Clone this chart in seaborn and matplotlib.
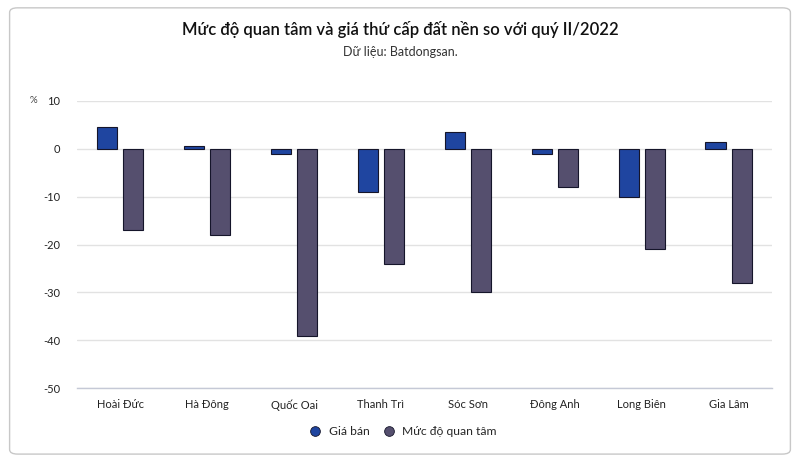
import matplotlib
matplotlib.use("Agg")
import matplotlib.pyplot as plt
import seaborn as sns
import pandas as pd
from matplotlib.patches import FancyBboxPatch
from matplotlib.lines import Line2D

categories = ["Hoài Đức", "Hà Đông", "Quốc Oai", "Thanh Trì", "Sóc Sơn", "Đông Anh", "Long Biên", "Gia Lâm"]
gia_ban = [4.5, 0.5, -1, -9, 3.5, -1, -10, 1.5]
muc_do_quan_tam = [-17, -18, -39, -24, -30, -8, -21, -28]
series_names = ["Giá bán", "Mức độ quan tâm"]
colors = ["#1f45a0", "#554f6e"]
yticks = [10, 0, -10, -20, -30, -40, -50]

df = pd.DataFrame({
    "cat": categories * 2,
    "val": gia_ban + muc_do_quan_tam,
    "series": [series_names[0]] * len(categories) + [series_names[1]] * len(categories),
})

sns.set_style("white")
plt.rcParams["font.family"] = ["Lato", "DejaVu Sans"]

fig = plt.figure(figsize=(8, 4.61), dpi=100)
ax = fig.add_axes([0.096, 0.158, 0.869, 0.623])

sns.barplot(data=df, x="cat", y="val", hue="series", palette=colors, ax=ax, saturation=1,
            width=0.6, gap=0.23, edgecolor="#15152a", linewidth=0.8, legend=False)

ax.set_ylim(-50, 10)
ax.set_yticks(yticks)
ax.set_yticklabels([str(t) for t in yticks], fontsize=8, color="#222222")
ax.set_xlim(-0.5, len(categories) - 0.5)
ax.tick_params(axis="x", labelsize=8, colors="#222222", length=0, pad=8)
ax.tick_params(axis="y", length=0, pad=12)
ax.set_xlabel("")
ax.set_ylabel("")
ax.yaxis.grid(True, color="#e2e2e2", linewidth=1)
ax.set_axisbelow(True)
for s in ["top", "right", "left"]:
    ax.spines[s].set_visible(False)
ax.spines["bottom"].set_color("#c5c9d6")
ax.spines["bottom"].set_linewidth(1)

fig.text(0.5, 0.935, "Mức độ quan tâm và giá thứ cấp đất nền so với quý II/2022",
         ha="center", va="center", fontsize=12, fontweight="semibold", color="#111111")
fig.text(0.5, 0.888, "Dữ liệu: Batdongsan.", ha="center", va="center", fontsize=9, color="#333333")
fig.text(0.042, 0.781, "%", ha="center", va="center", fontsize=7, color="#444444")

handles = [Line2D([0], [0], marker="o", linestyle="", markersize=7,
                  markerfacecolor=c, markeredgecolor="#15152a", markeredgewidth=0.6) for c in colors]
fig.legend(handles, series_names, loc="center", bbox_to_anchor=(0.5, 0.064), ncol=2,
           frameon=False, fontsize=8.7, handletextpad=0.1, columnspacing=0.6)

frame = FancyBboxPatch((0.012, 0.015), 0.976, 0.968, boxstyle="round,pad=0,rounding_size=0.01",
                       transform=fig.transFigure, facecolor="none", edgecolor="#c8c8c8", linewidth=1)
fig.patches.append(frame)

fig.savefig("out.png", dpi=100)
